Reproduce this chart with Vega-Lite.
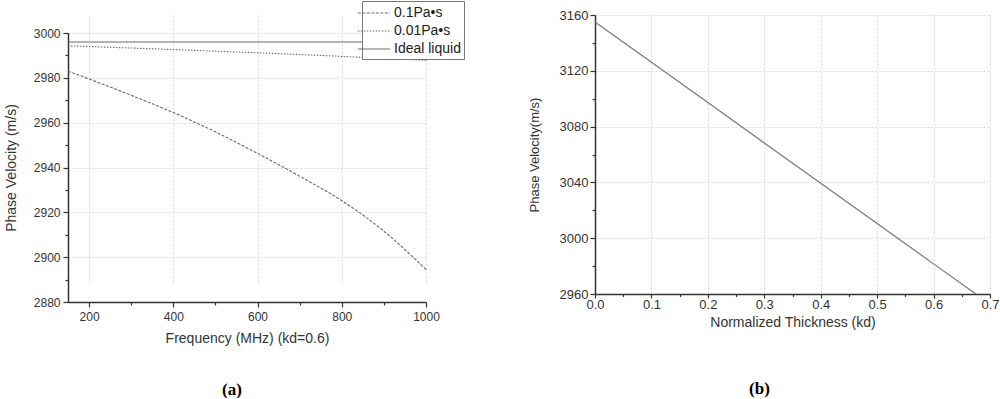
{
  "$schema": "https://vega.github.io/schema/vega-lite/v6.json",
  "padding": {"left": 4, "top": 0, "right": 2, "bottom": 0},
  "spacing": 88,
  "align": "none",
  "config": {
    "view": {"stroke": null},
    "font": "Liberation Sans, Arial, Helvetica, sans-serif",
    "axis": {
      "labelFont": "Liberation Sans, Arial, Helvetica, sans-serif", "titleFont": "Liberation Sans, Arial, Helvetica, sans-serif",
      "labelColor": "#333", "titleColor": "#333", "titleFontWeight": "normal",
      "domainColor": "#333", "domainWidth": 1.5, "tickColor": "#333", "tickWidth": 1.2,
      "gridColor": "#d8d8d8", "gridDash": [2, 2], "labelOverlap": false, "labelFlush": false,
      "labelFontSize": 12, "titleFontSize": 14, "format": "d"
    },
    "title": {"font": "Liberation Serif, Times New Roman, serif", "fontSize": 17, "fontWeight": "bold", "color": "#000"}
  },
  "datasets": {
    "freq": [
      {"f": 150, "v": 2983.0, "s": "0.1Pa•s"},
      {"f": 200, "v": 2979.5, "s": "0.1Pa•s"},
      {"f": 300, "v": 2972.2, "s": "0.1Pa•s"},
      {"f": 400, "v": 2964.5, "s": "0.1Pa•s"},
      {"f": 500, "v": 2955.9, "s": "0.1Pa•s"},
      {"f": 600, "v": 2946.3, "s": "0.1Pa•s"},
      {"f": 700, "v": 2936.1, "s": "0.1Pa•s"},
      {"f": 800, "v": 2925.2, "s": "0.1Pa•s"},
      {"f": 900, "v": 2911.6, "s": "0.1Pa•s"},
      {"f": 1000, "v": 2894.5, "s": "0.1Pa•s"},
      {"f": 150, "v": 2994.3, "s": "0.01Pa•s"},
      {"f": 300, "v": 2993.3, "s": "0.01Pa•s"},
      {"f": 500, "v": 2991.9, "s": "0.01Pa•s"},
      {"f": 700, "v": 2990.4, "s": "0.01Pa•s"},
      {"f": 900, "v": 2988.7, "s": "0.01Pa•s"},
      {"f": 1000, "v": 2987.8, "s": "0.01Pa•s"},
      {"f": 150, "v": 2996.0, "s": "Ideal liquid"},
      {"f": 1000, "v": 2996.0, "s": "Ideal liquid"}
    ],
    "thick": [
      {"t": 0.0, "v": 3155.0},
      {"t": 0.1, "v": 3126.1},
      {"t": 0.2, "v": 3097.2},
      {"t": 0.3, "v": 3068.3},
      {"t": 0.4, "v": 3039.4},
      {"t": 0.5, "v": 3010.5},
      {"t": 0.6, "v": 2981.6},
      {"t": 0.675, "v": 2960.0}
    ]
  },
  "hconcat": [
    {
      "data": {"name": "freq"},
      "width": 358,
      "height": 287,
      "title": {"text": "(a)", "orient": "bottom", "offset": 37, "dx": -15},
      "mark": {"type": "line", "color": "#6a6a6a", "strokeWidth": 1.1, "interpolate": "monotone"},
      "encoding": {
        "x": {
          "field": "f", "type": "quantitative",
          "scale": {"domain": [150, 1000], "nice": false, "zero": false},
          "axis": {
            "title": "Frequency (MHz)  (kd=0.6)",
            "values": [200, 300, 400, 500, 600, 700, 800, 900, 1000],
            "labelExpr": "datum.value % 200 === 0 ? datum.label : ''",
            "tickSize": {"condition": {"test": "datum.value % 200 === 0", "value": 5}, "value": 3},
            "gridOpacity": {"condition": {"test": "datum.value % 200 === 0", "value": 1}, "value": 0},
            "labelPadding": 4, "titlePadding": 9
          }
        },
        "y": {
          "field": "v", "type": "quantitative",
          "scale": {"domain": [2880, 3000], "nice": false, "zero": false, "range": [287, 18]},
          "axis": {
            "title": "Phase Velocity (m/s)",
            "values": [2880, 2890, 2900, 2910, 2920, 2930, 2940, 2950, 2960, 2970, 2980, 2990, 3000],
            "labelExpr": "datum.value % 20 === 0 ? datum.label : ''",
            "tickSize": {"condition": {"test": "datum.value % 20 === 0", "value": 5}, "value": 3},
            "gridOpacity": {"condition": {"test": "datum.value % 20 === 0", "value": 1}, "value": 0},
            "labelPadding": 3, "titlePadding": 15
          }
        },
        "strokeDash": {
          "field": "s", "type": "nominal",
          "scale": {"domain": ["0.1Pa•s", "0.01Pa•s", "Ideal liquid"], "range": [[3, 1.5], [1.5, 1.5], [1, 0]]},
          "legend": {
            "title": null, "orient": "none", "legendX": 294, "legendY": -14,
            "strokeColor": "#777", "fillColor": "#ffffff", "padding": 3,
            "symbolType": "M-1.9,0H1.9", "symbolSize": 289, "symbolStrokeWidth": 1, "symbolStrokeColor": "#666",
            "labelFontSize": 14, "labelFont": "Liberation Sans, Arial, Helvetica, sans-serif", "labelColor": "#222", "rowPadding": 2, "labelOffset": 11
          }
        }
      }
    },
    {
      "data": {"name": "thick"},
      "width": 395,
      "height": 279,
      "title": {"text": "(b)", "orient": "bottom", "offset": 51, "dx": -33},
      "mark": {"type": "line", "color": "#777", "strokeWidth": 1.2},
      "encoding": {
        "x": {
          "field": "t", "type": "quantitative",
          "scale": {"domain": [0, 0.7], "nice": false, "zero": false},
          "axis": {
            "title": "Normalized Thickness  (kd)",
            "values": [0, 0.05, 0.1, 0.15, 0.2, 0.25, 0.3, 0.35, 0.4, 0.45, 0.5, 0.55, 0.6, 0.65, 0.7],
            "labelExpr": "abs(datum.value*10 - round(datum.value*10)) < 0.001 ? format(datum.value, '.1f') : ''",
            "tickSize": {"condition": {"test": "abs(datum.value*10 - round(datum.value*10)) < 0.001", "value": 4}, "value": 2.5},
            "gridOpacity": {"condition": {"test": "abs(datum.value*10 - round(datum.value*10)) < 0.001", "value": 1}, "value": 0},
            "labelPadding": 0.5, "titlePadding": 4, "labelFontSize": 13
          }
        },
        "y": {
          "field": "v", "type": "quantitative",
          "scale": {"domain": [2960, 3160], "nice": false, "zero": false},
          "axis": {
            "title": "Phase Velocity(m/s)",
            "titleFontSize": 13, "labelFontSize": 13,
            "values": [2960, 2980, 3000, 3020, 3040, 3060, 3080, 3100, 3120, 3140, 3160],
            "labelExpr": "datum.value % 40 === 0 ? datum.label : ''",
            "tickSize": {"condition": {"test": "datum.value % 40 === 0", "value": 5}, "value": 3},
            "gridOpacity": {"condition": {"test": "datum.value % 40 === 0", "value": 1}, "value": 0},
            "labelPadding": 2, "titlePadding": 18
          }
        }
      }
    }
  ]
}
